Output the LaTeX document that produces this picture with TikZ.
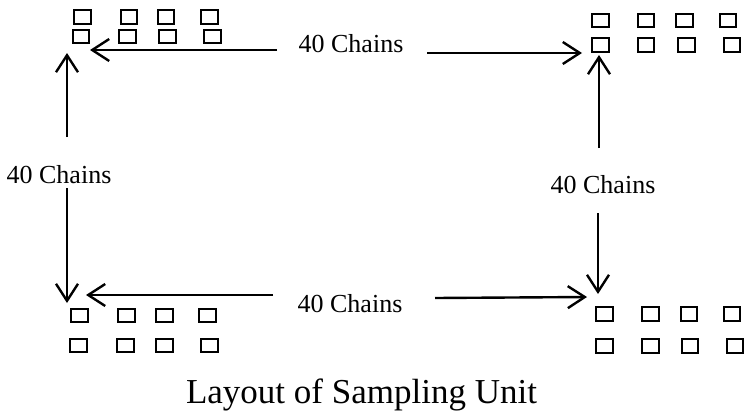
\documentclass[tikz,border=0pt]{standalone}
\usepackage{fontspec}
\setmainfont{Liberation Serif}
\usetikzlibrary{arrows.meta}
\begin{document}
\begin{tikzpicture}[x=1pt,y=-1pt,
  sq/.style={draw,line width=1.8pt,minimum width=16.5pt,minimum height=13.5pt,inner sep=0pt,outer sep=0pt},
  lbl/.style={font=\fontsize{26}{30}\selectfont,inner sep=0pt},
  arr/.style={line width=2.4pt,-{Straight Barb[length=17pt,width=22pt,line width=2.4pt]}}]
\useasboundingbox (0,0) rectangle (749,413);
% top-left squares
\foreach \x/\n in {82.5/a,129/b,166/c,209.5/d} \node[sq] (tl1\n) at (\x,17) {};
\foreach \x/\n in {81/a,127.5/b,167.5/c,212.5/d} \node[sq] (tl2\n) at (\x,36.5) {};
% top-right squares
\foreach \x/\n in {600.5/a,646/b,684.5/c,728/d} \node[sq] (tr1\n) at (\x,20.5) {};
\foreach \x/\n in {600.5/a,646/b,686.5/c,732/d} \node[sq] (tr2\n) at (\x,45) {};
% bottom-left squares
\foreach \x/\n in {79.5/a,126.5/b,164.5/c,207.5/d} \node[sq] (bl1\n) at (\x,315.5) {};
\foreach \x/\n in {78.5/a,125.5/b,164.5/c,209.5/d} \node[sq] (bl2\n) at (\x,345.5) {};
% bottom-right squares
\foreach \x/\n in {604.5/a,650.5/b,689/c,732/d} \node[sq] (br1\n) at (\x,314) {};
\foreach \x/\n in {604.5/a,650.5/b,690/c,735/d} \node[sq] (br2\n) at (\x,346) {};
% labels
\node[lbl,anchor=base] (ltop) at (351,52) {40 Chains};
\node[lbl,anchor=base] (lbot) at (350,312) {40 Chains};
\node[lbl,anchor=base] (lleft) at (59,183) {40 Chains};
\node[lbl,anchor=base] (lright) at (603,193) {40 Chains};
\node[anchor=base,inner sep=0pt,font=\fontsize{35}{40}\selectfont] (title) at (361.5,403) {Layout of Sampling Unit};
% arrow end points
\coordinate (tTL) at (90,50);
\coordinate (sTL) at (277,50);
\coordinate (sTR) at (427,53);
\coordinate (tTR) at (582,53);
\coordinate (sLU) at (67,137);
\coordinate (tLU) at (67,53);
\coordinate (sLD) at (67,188);
\coordinate (tLD) at (67,303);
\coordinate (sRU) at (599,148);
\coordinate (tRU) at (599,55);
\coordinate (sRD) at (598,213);
\coordinate (tRD) at (598,294);
\coordinate (sBL) at (273,295);
\coordinate (tBL) at (86,295);
\coordinate (sBR) at (435,298);
\coordinate (tBR) at (587,297);
% arrows
\draw[arr] (sTL) -- (tTL);
\draw[arr] (sTR) -- (tTR);
\draw[arr] (sLU) -- (tLU);
\draw[arr] (sLD) -- (tLD);
\draw[arr] (sRU) -- (tRU);
\draw[arr] (sRD) -- (tRD);
\draw[arr] (sBL) -- (tBL);
\draw[arr] (sBR) -- (tBR);
\end{tikzpicture}
\end{document}
